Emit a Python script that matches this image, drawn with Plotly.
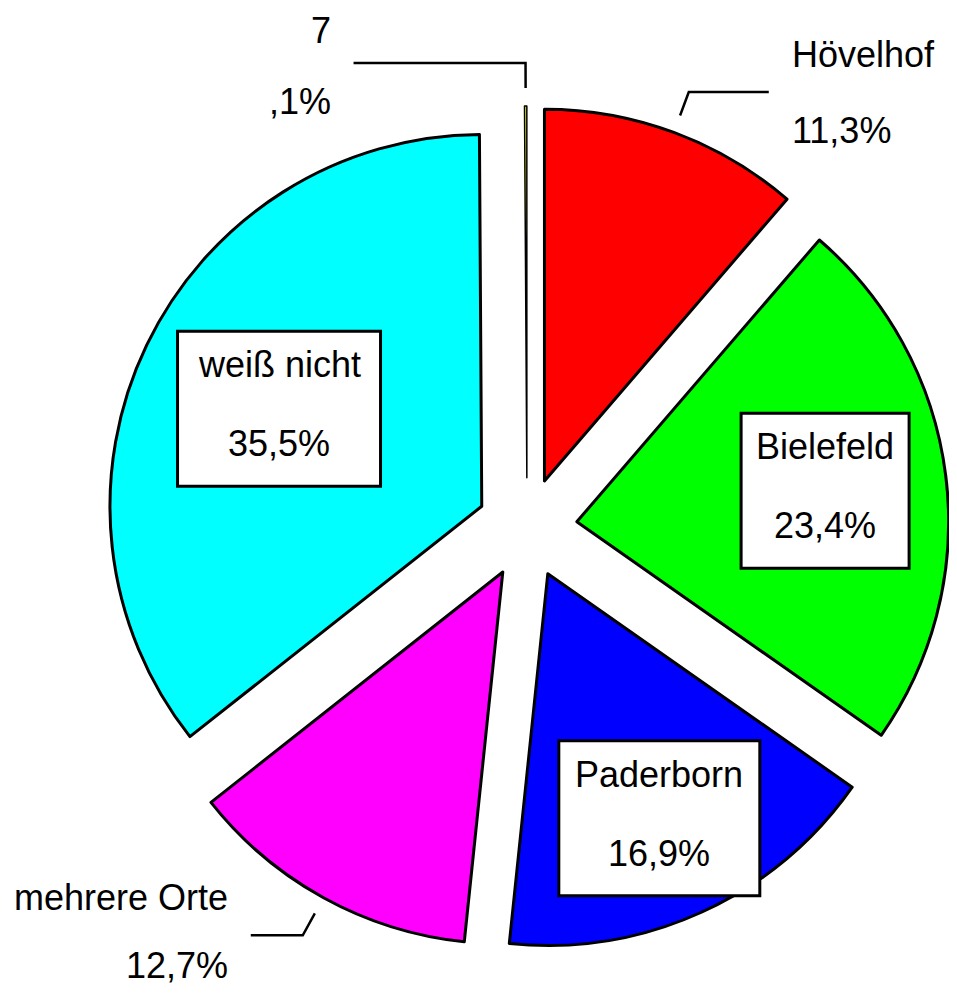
import math
import plotly.graph_objects as go

# ---------------- data ----------------
labels = ["Hövelhof", "Bielefeld", "Paderborn", "mehrere Orte", "weiß nicht", "7"]
values = [11.3, 23.4, 16.9, 12.7, 35.5, 0.1]
colors = ["#FF0000", "#00FF00", "#0000FF", "#FF00FF", "#00FFFF", "#FFFF00"]


def fmt_pct(v):
    s = f"{v:.1f}".replace(".", ",")
    if s.startswith("0"):
        s = s[1:]
    return s + "%"


value_text = [fmt_pct(v) for v in values]

# ---------------- layout / style ----------------
OFF = 8                    # page margin around the plot (px)
PW, PH = 941, 979          # plot size inside the page (px)
CX, CY = 527, 528          # pie centre (screen px)
REACH = 422                # r * (1 + pull)
PULL = 0.135
R = REACH / (1 + PULL)
PULL_PX = PULL * R
FONT = dict(family="Liberation Sans, Arial, sans-serif", size=36, color="black")
HALF_TEXT = 22             # half text-box height, keeps labels inside the page

label_mode = ["outside", "box", "box", "outside", "box", "outside"]
box_frac = {1: 0.673, 2: 0.723, 4: 0.605}
box_w = {1: 168, 2: 201, 4: 203}
BOX_H = 155
leader_len = {0: 80, 3: 52, 5: 172}
leader_side = {0: 1, 3: -1, 5: -1}
edge_width = [3, 3, 3, 3, 3, 1.5]


def px(x):
    return (x - OFF) / PW


def py(y):
    return 1 - (y - OFF) / PH


def clamp_y(y):
    return min(max(y, OFF + HALF_TEXT), OFF + PH - HALF_TEXT)


total = sum(values)
shapes, annotations = [], []
cum = 0.0
for i, v in enumerate(values):
    mid = (cum + v / 2) / total * 2 * math.pi
    cum += v
    dx, dy = math.sin(mid), -math.cos(mid)
    pcx, pcy = CX + PULL_PX * dx, CY + PULL_PX * dy
    if label_mode[i] == "box":
        f = box_frac[i]
        bx, by = pcx + f * R * dx, pcy + f * R * dy
        w = box_w[i]
        shapes.append(dict(type="rect", xref="paper", yref="paper",
                           x0=px(bx - w / 2), x1=px(bx + w / 2),
                           y0=py(by - BOX_H / 2), y1=py(by + BOX_H / 2),
                           line=dict(color="black", width=3), fillcolor="white",
                           layer="above"))
        ty = by - 4.5
        annotations.append(dict(x=px(bx), y=py(ty - 39.5), xref="paper", yref="paper",
                                text=labels[i], showarrow=False, font=FONT,
                                xanchor="center", yanchor="middle"))
        annotations.append(dict(x=px(bx), y=py(ty + 39.5), xref="paper", yref="paper",
                                text=value_text[i], showarrow=False, font=FONT,
                                xanchor="center", yanchor="middle"))
    else:
        sx, sy = pcx + (R + 18) * dx, pcy + (R + 18) * dy
        ex, ey = sx + 25 * dx, sy + 25 * dy
        side = leader_side[i]
        hx = ex + side * leader_len[i]
        shapes.append(dict(type="path", xref="paper", yref="paper",
                           path=f"M {px(sx)} {py(sy)} L {px(ex)} {py(ey)} L {px(hx)} {py(ey)}",
                           line=dict(color="black", width=2.5)))
        tx = hx + side * 21
        anchor = "left" if side > 0 else "right"
        annotations.append(dict(x=px(tx), y=py(clamp_y(ey - 38)), xref="paper", yref="paper",
                                text=labels[i], showarrow=False, font=FONT,
                                xanchor=anchor, yanchor="middle"))
        annotations.append(dict(x=px(tx), y=py(clamp_y(ey + 38)), xref="paper", yref="paper",
                                text=value_text[i], showarrow=False, font=FONT,
                                xanchor=anchor, yanchor="middle"))

fig = go.Figure(go.Pie(
    labels=labels,
    values=values,
    sort=False,
    direction="clockwise",
    rotation=0,
    pull=[PULL] * len(values),
    marker=dict(colors=colors, line=dict(color="black", width=edge_width)),
    textinfo="none",
    hoverinfo="label+percent",
    showlegend=False,
    domain=dict(x=[max(0.0, px(CX - REACH)), min(1.0, px(CX + REACH))],
                y=[max(0.0, py(CY + REACH)), min(1.0, py(CY - REACH))]),
))

fig.update_layout(
    margin=dict(l=0, r=0, t=0, b=0),
    paper_bgcolor="white",
    plot_bgcolor="white",
    showlegend=False,
    shapes=shapes,
    annotations=annotations,
    font=FONT,
)

fig.write_html("out.html")
